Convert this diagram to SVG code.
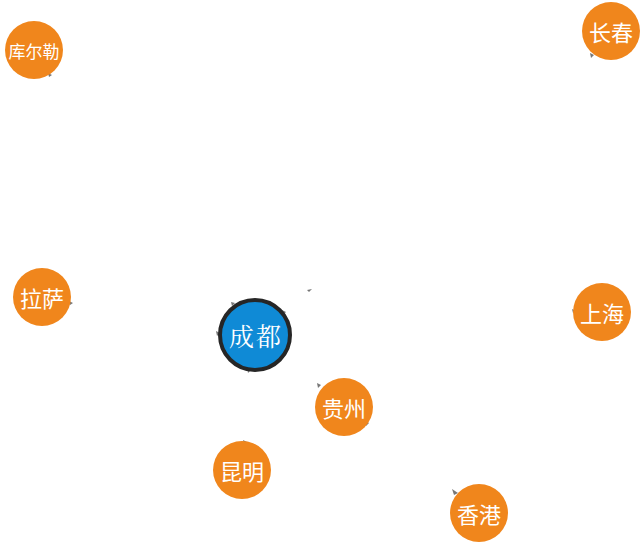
<svg xmlns="http://www.w3.org/2000/svg" width="641" height="542" viewBox="0 0 641 542">
<style>
.city{fill:#f0861c}
.lbl{fill:#fff;font-family:"Noto Sans CJK SC","Noto Sans",sans-serif;text-anchor:middle;dominant-baseline:central}
.c2{font-size:22px}
.c3{font-size:17px}
.hub{fill:#0f8ad6;stroke:#262626;stroke-width:4}
.hubl{font-size:25px;letter-spacing:2px;font-family:"Noto Serif CJK SC","Noto Sans CJK SC",serif}
.tip{fill:#555;opacity:0.8}
</style>
<rect width="641" height="542" fill="#fff"/>
<g id="connectors">
<polygon class="tip" points="48,73 52,75 49,77"/>
<polygon class="tip" points="590,53 594,55 591,58"/>
<polygon class="tip" points="69,301 73,303 70,305"/>
<polygon class="tip" points="231,302 235,303 232,306"/>
<polygon class="tip" points="282,310 286,312 283,315"/>
<polygon class="tip" points="216,331 220,333 217,336"/>
<polygon class="tip" points="247,368 251,370 248,373"/>
<polygon class="tip" points="307,290 312,289 309,292"/>
<polygon class="tip" points="317,383 321,385 318,388"/>
<polygon class="tip" points="365,421 369,423 366,426"/>
<polygon class="tip" points="243,440 247,442 244,444"/>
<polygon class="tip" points="452,489 458,493 454,495"/>
<polygon class="tip" points="572,309 576,311 573,313"/>
</g>
<g id="node-kuerle"><circle class="city" cx="34" cy="50" r="29"/><text class="lbl c3" x="34" y="50">库尔勒</text></g>
<g id="node-changchun"><circle class="city" cx="611" cy="31" r="29"/><text class="lbl c2" x="611" y="31">长春</text></g>
<g id="node-lasa"><circle class="city" cx="42" cy="297" r="29"/><text class="lbl c2" x="42" y="297">拉萨</text></g>
<g id="node-shanghai"><circle class="city" cx="602" cy="312" r="29"/><text class="lbl c2" x="602" y="312">上海</text></g>
<g id="node-guizhou"><circle class="city" cx="344" cy="407" r="29"/><text class="lbl c2" x="344" y="407">贵州</text></g>
<g id="node-kunming"><circle class="city" cx="242" cy="470" r="29"/><text class="lbl c2" x="242" y="470">昆明</text></g>
<g id="node-xianggang"><circle class="city" cx="479" cy="513" r="29"/><text class="lbl c2" x="479" y="513">香港</text></g>
<g id="node-chengdu"><circle class="hub" cx="255" cy="335" r="35"/><text class="lbl hubl" x="256" y="335">成都</text></g>
</svg>
